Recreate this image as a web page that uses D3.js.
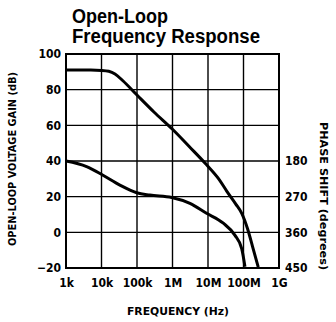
<!DOCTYPE html>
<html>
<head>
<meta charset="utf-8">
<script src="https://cdn.jsdelivr.net/npm/d3@7"></script>
<style>
  html, body { margin: 0; padding: 0; background: #fff; }
  svg { display: block; }
  .title { font-family: "Liberation Sans", Arial, sans-serif; font-weight: bold; font-size: 20px; fill: #000; }
  .tick text { font-family: "Liberation Sans Narrow", "DejaVu Sans Condensed", "Liberation Sans", sans-serif; font-weight: bold; font-size: 12px; fill: #000; }
  .axis-label { font-family: "Liberation Sans Narrow", "DejaVu Sans Condensed", "Liberation Sans", sans-serif; font-weight: bold; font-size: 11px; fill: #000; }
</style>
</head>
<body>
<svg id="chart" width="336" height="322"></svg>
<script>
// Frequency grid and tick labels
const freqTicks = [1e3, 1e4, 1e5, 1e6, 1e7, 1e8, 1e9];
const freqLabels = ["1k", "10k", "100k", "1M", "10M", "100M", "1G"];
const gainTicks = [-20, 0, 20, 40, 60, 80, 100];
const phaseTicks = [180, 270, 360, 450];

// Open-loop gain (dB) vs frequency (Hz)
const gainFreq = [1e3, 5e3, 1e4, 1.6e4, 2.4e4, 4e4, 1e5, 3e5, 1e6, 3e6, 9e6, 2e7, 3.4e7, 6e7, 9e7, 1.3e8, 1.8e8, 2.6e8];
const gainDb   = [91, 91, 90.8, 90.3, 88.8, 85, 77, 67.5, 57.8, 48, 38, 30, 23, 16, 10.5, 2, -8, -19.5];

// Phase shift (degrees) vs frequency (Hz)
const phaseFreq = [1e3, 3.8e3, 1.1e4, 3.3e4, 9.8e4, 2.3e5, 9.5e5, 3.1e6, 9.1e6, 2.7e7, 5.7e7, 8.9e7, 1.1e8];
const phaseDeg  = [180, 194, 216, 241, 260, 266, 272, 287, 312, 337, 367, 401, 447];

const svg = d3.select("#chart");
const plot = { left: 66, right: 279, top: 54, bottom: 268 };

const x = d3.scaleLog().domain([1e3, 1e9]).range([plot.left, plot.right]);
const yGain = d3.scaleLinear().domain([-20, 100]).range([plot.bottom, plot.top]);
const yPhase = d3.scaleLinear().domain([450, -90]).range([plot.bottom, plot.top]);

// Title
svg.append("text").attr("class", "title").attr("x", 72).attr("y", 23)
  .attr("textLength", 96).attr("lengthAdjust", "spacingAndGlyphs").text("Open-Loop");
svg.append("text").attr("class", "title").attr("x", 72).attr("y", 43)
  .attr("textLength", 188).attr("lengthAdjust", "spacingAndGlyphs").text("Frequency Response");

// Grid
const grid = svg.append("g").attr("stroke", "#000").attr("stroke-width", 1.4);
grid.selectAll("line.v").data(freqTicks.slice(1, -1)).join("line")
  .attr("x1", d => x(d)).attr("x2", d => x(d)).attr("y1", plot.top).attr("y2", plot.bottom);
grid.selectAll("line.h").data(gainTicks.slice(1, -1)).join("line")
  .attr("x1", plot.left).attr("x2", plot.right).attr("y1", d => yGain(d)).attr("y2", d => yGain(d));

// Frame
svg.append("rect").attr("x", plot.left).attr("y", plot.top)
  .attr("width", plot.right - plot.left).attr("height", plot.bottom - plot.top)
  .attr("fill", "none").attr("stroke", "#000").attr("stroke-width", 2);

// Axes (labels only; frame and grid drawn above)
const xAxis = d3.axisBottom(x).tickValues(freqTicks).tickFormat((d, i) => freqLabels[i]).tickSize(0).tickPadding(10);
svg.append("g").attr("transform", `translate(0,${plot.bottom})`).call(xAxis).call(g => g.select(".domain").remove());

const yAxis = d3.axisLeft(yGain).tickValues(gainTicks).tickSize(0).tickPadding(5);
svg.append("g").attr("transform", `translate(${plot.left},0)`).call(yAxis).call(g => g.select(".domain").remove());

const yAxisR = d3.axisRight(yPhase).tickValues(phaseTicks).tickSize(0).tickPadding(6);
svg.append("g").attr("transform", `translate(${plot.right},0)`).call(yAxisR).call(g => g.select(".domain").remove());

// Axis titles
svg.append("text").attr("class", "axis-label").attr("text-anchor", "middle")
  .attr("transform", `translate(16,159) rotate(-90)`)
  .attr("textLength", 174).attr("lengthAdjust", "spacingAndGlyphs")
  .text("OPEN-LOOP VOLTAGE GAIN (dB)");
svg.append("text").attr("class", "axis-label").attr("text-anchor", "middle")
  .attr("transform", `translate(320,196) rotate(90)`)
  .attr("textLength", 148).attr("lengthAdjust", "spacingAndGlyphs")
  .text("PHASE SHIFT (degrees)");
svg.append("text").attr("class", "axis-label").attr("text-anchor", "middle")
  .attr("x", 178).attr("y", 315)
  .attr("textLength", 102).attr("lengthAdjust", "spacingAndGlyphs")
  .text("FREQUENCY (Hz)");

// Curves
const gainLine = d3.line().x((d, i) => x(gainFreq[i])).y(d => yGain(d)).curve(d3.curveMonotoneX);
const phaseLine = d3.line().x((d, i) => x(phaseFreq[i])).y(d => yPhase(d)).curve(d3.curveMonotoneX);

svg.append("path").attr("d", gainLine(gainDb)).attr("fill", "none").attr("stroke", "#000").attr("stroke-width", 3);
svg.append("path").attr("d", phaseLine(phaseDeg)).attr("fill", "none").attr("stroke", "#000").attr("stroke-width", 3);
</script>
</body>
</html>
